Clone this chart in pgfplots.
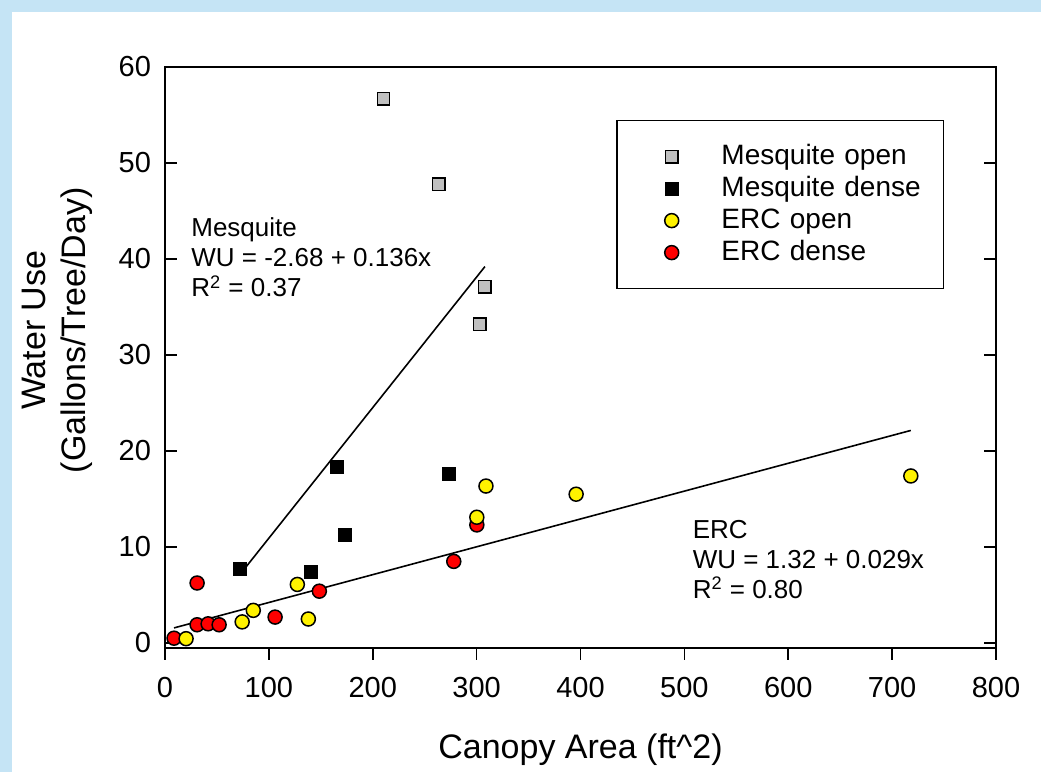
\documentclass[border=0pt]{standalone}
\usepackage{pgfplots}
\pgfplotsset{compat=1.18}
\usepackage{fontspec}
\setmainfont{Liberation Sans}
\definecolor{bgblue}{RGB}{197,228,245}
\definecolor{msqgray}{RGB}{192,192,192}
\begin{document}
\begin{tikzpicture}
\fill[bgblue] (0pt,0pt) rectangle (520.5pt,-386pt);
\fill[white] (6pt,-6pt) rectangle (520.5pt,-386pt);
\begin{axis}[
  at={(82.5pt,-324pt)}, anchor=south west,
  scale only axis, width=415.5pt, height=290.5pt,
  xmin=0, xmax=800, ymin=-0.52, ymax=60,
  xtick={0,100,...,800}, ytick={0,10,...,60},
  minor tick num=0,
  xtick pos=lower, ytick pos=both,
  xtick align=outside, ytick align=inside,
  major tick length=6pt,
  axis line style={line width=0.8pt},
  every tick/.style={black, line width=0.8pt},
  tick label style={font=\fontsize{14.5}{16}\selectfont},
  xticklabel style={yshift=-5pt},
  yticklabel style={xshift=-3.5pt},
  /pgf/number format/assume math mode=true,
  xlabel={Canopy Area (ft\textasciicircum 2)},
  ylabel={Water Use\\(Gallons/Tree/Day)},
  label style={font=\fontsize{17}{20}\selectfont},
  xlabel style={at={(axis description cs:0.5,-0.175)}, anchor=center},
  ylabel style={at={(axis description cs:-0.130,0.547)}, anchor=center, align=center},
  legend style={at={(0.543,0.909)}, anchor=north west, draw=black, line width=0.75pt, fill=white,
    font=\fontsize{14}{16}\selectfont, inner xsep=0pt, inner ysep=10pt,
    /tikz/column sep=0pt, /tikz/row sep=0pt,
    nodes={inner xsep=0pt, inner ysep=1pt, text height=11pt, text depth=3pt, text width=111pt, align=left}},
  legend cell align=left,
  legend image code/.code={\path (-27pt,0pt) (24.5pt,0pt);
    \draw[mark repeat=2,mark phase=2,#1] plot coordinates {(-5pt,0pt)(0pt,0pt)(5pt,0pt)};},
]
% regression lines
\addplot[black, line width=0.8pt, forget plot] coordinates {(72.4,7.166) (308,39.21)};
\addplot[black, line width=0.8pt, forget plot] coordinates {(8.7,1.572) (718,22.142)};
% ERC dense (drawn first, legend entry added later)
\addplot[only marks, mark=*, mark size=3.5pt, mark options={fill=red, draw=black, line width=0.75pt}, forget plot]
  coordinates {(8.7,0.5) (30.9,6.25) (30.9,1.9) (41.5,2.0) (52.1,1.9) (106,2.7) (148.6,5.4) (278,8.5) (300.2,12.3)};
\addplot[only marks, mark=square*, mark size=3.1pt, mark options={fill=msqgray, draw=black, line width=0.75pt}]
  coordinates {(210.4,56.7) (263.5,47.8) (307.9,37.1) (303.1,33.2)};
\addlegendentry{Mesquite open}
\addplot[only marks, mark=square*, mark size=3.1pt, mark options={fill=black, draw=black, line width=0.75pt}]
  coordinates {(72.4,7.7) (140.9,7.4) (173.7,11.25) (166,18.3) (273,17.6)};
\addlegendentry{Mesquite dense}
\addplot[only marks, mark=*, mark size=3.5pt, mark options={fill=yellow, draw=black, line width=0.75pt}]
  coordinates {(20.3,0.45) (74.3,2.2) (85,3.4) (127.4,6.1) (138,2.5) (300.2,13.1) (309,16.35) (395.8,15.5) (718,17.4)};
\addlegendentry{ERC open}
\addlegendimage{only marks, mark=*, mark size=3.5pt, mark options={fill=red, draw=black, line width=0.75pt}}
\addlegendentry{ERC dense}
\node[anchor=north west, inner sep=0pt, align=left, font=\fontsize{13}{15}\selectfont] at (axis cs:25,44.3)
  {Mesquite\\WU = -2.68 + 0.136x\\R\textsuperscript{2} = 0.37};
\node[anchor=north west, inner sep=0pt, align=left, font=\fontsize{13}{15}\selectfont] at (axis cs:507.7,12.8)
  {ERC\\WU = 1.32 + 0.029x\\R\textsuperscript{2} = 0.80};
\end{axis}
\end{tikzpicture}
\end{document}
